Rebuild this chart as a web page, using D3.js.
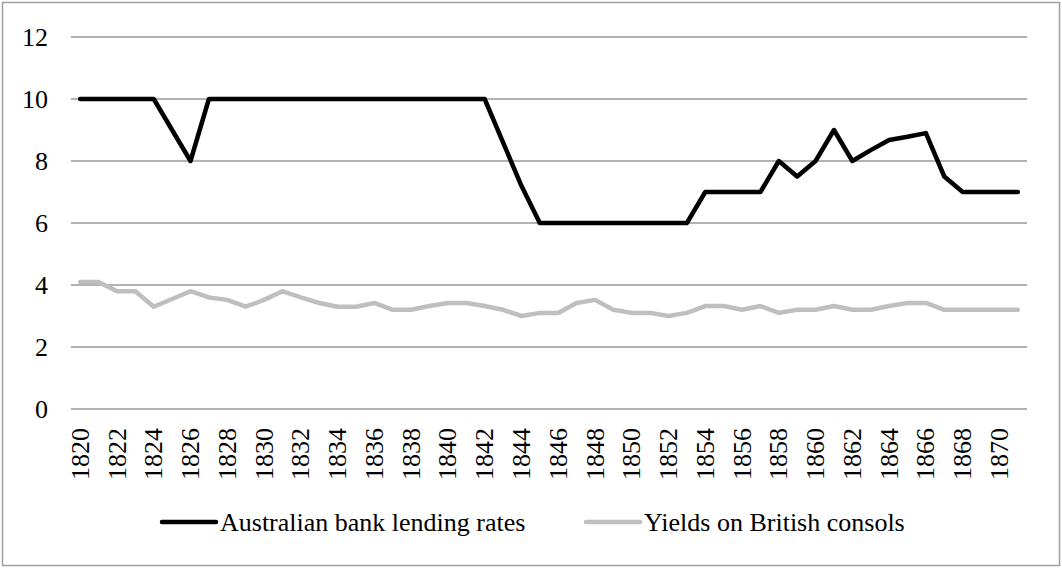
<!DOCTYPE html>
<html>
<head>
<meta charset="utf-8">
<script src="https://cdn.jsdelivr.net/npm/d3@7"></script>
<style>
  html, body { margin: 0; padding: 0; background: #fff; }
  svg { display: block; }
  text { font-family: "Liberation Serif", "Times New Roman", Tinos, "DejaVu Serif", serif; fill: #000; }
</style>
</head>
<body>
<svg id="chart" width="1062" height="569"></svg>
<script>
const years = d3.range(1820, 1872);
const tickYears = d3.range(1820, 1871, 2);
const yTicks = [0, 2, 4, 6, 8, 10, 12];
const seriesNames = ["Australian bank lending rates", "Yields on British consols"];
const australianRates = [
  10, 10, 10, 10, 10, 9, 8, 10, 10, 10,
  10, 10, 10, 10, 10, 10, 10, 10, 10, 10,
  10, 10, 10, 8.6, 7.2, 6, 6, 6, 6, 6,
  6, 6, 6, 6, 7, 7, 7, 7, 8, 7.5,
  8, 9, 8, 8.35, 8.68, 8.78, 8.9, 7.5, 7, 7,
  7, 7
];
const britishConsols = [
  4.1, 4.1, 3.8, 3.8, 3.3, 3.55, 3.8, 3.6, 3.52, 3.3,
  3.52, 3.8, 3.6, 3.42, 3.3, 3.3, 3.42, 3.2, 3.2, 3.32,
  3.42, 3.42, 3.32, 3.2, 3.0, 3.1, 3.1, 3.42, 3.52, 3.2,
  3.1, 3.1, 3.0, 3.1, 3.32, 3.32, 3.2, 3.32, 3.1, 3.2,
  3.2, 3.32, 3.2, 3.2, 3.32, 3.42, 3.42, 3.2, 3.2, 3.2,
  3.2, 3.2
];
const colors = ["#000000", "#bfbfbf"];
const FONT = "Liberation Serif, Times New Roman, serif";
const FS = 26;

const svg = d3.select("#chart");
const margin = { left: 71, right: 1027, top: 37, bottom: 409 };

// outer border
svg.append("rect")
  .attr("x", 2.5).attr("y", 2.5)
  .attr("width", 1057).attr("height", 563)
  .attr("fill", "#fff").attr("stroke", "#a0a0a0").attr("stroke-width", 1.5);

const x = d3.scaleBand().domain(years).range([margin.left, margin.right]);
const y = d3.scaleLinear().domain([0, 12]).range([margin.bottom, margin.top]);

// gridlines
svg.append("g").selectAll("line").data(yTicks).join("line")
  .attr("x1", margin.left).attr("x2", margin.right)
  .attr("y1", d => y(d)).attr("y2", d => y(d))
  .attr("stroke", "#999999").attr("stroke-width", 1.5);

// y axis labels
const yAxis = d3.axisLeft(y).tickValues(yTicks).tickSize(0).tickPadding(0);
const yg = svg.append("g").attr("transform", `translate(${margin.left - 23},0)`).call(yAxis);
yg.attr("font-family", FONT).attr("font-size", FS);
yg.select(".domain").remove();
yg.selectAll("text").attr("dy", "0.33em");

// x axis labels
const xAxis = d3.axisBottom(x).tickValues(tickYears).tickSize(0).tickPadding(0);
const xg = svg.append("g").attr("transform", `translate(0,${margin.bottom})`).call(xAxis);
xg.attr("font-family", FONT).attr("font-size", FS);
xg.select(".domain").remove();
xg.selectAll("text")
  .attr("text-anchor", "end")
  .attr("transform", "rotate(-90)")
  .attr("x", -19).attr("y", 0).attr("dy", "0.33em");

const line = d3.line()
  .x((d, i) => x(years[i]) + x.bandwidth() / 2)
  .y(d => y(d));

const data = [australianRates, britishConsols];
[1, 0].forEach(k => {
  svg.append("path").datum(data[k])
    .attr("d", line)
    .attr("fill", "none")
    .attr("stroke", colors[k])
    .attr("stroke-width", 4.5)
    .attr("stroke-linejoin", "round")
    .attr("stroke-linecap", "round");
});

// legend
const legendItems = [
  { x: 162, name: seriesNames[0], color: colors[0] },
  { x: 586, name: seriesNames[1], color: colors[1] }
];
const lg = svg.append("g").attr("font-family", FONT).attr("font-size", FS);
legendItems.forEach(item => {
  lg.append("line")
    .attr("x1", item.x).attr("x2", item.x + 54)
    .attr("y1", 522).attr("y2", 522)
    .attr("stroke", item.color).attr("stroke-width", 4.5)
    .attr("stroke-linecap", "round");
  lg.append("text")
    .attr("x", item.x + 58).attr("y", 522).attr("dy", "0.33em")
    .text(item.name);
});
</script>
</body>
</html>
